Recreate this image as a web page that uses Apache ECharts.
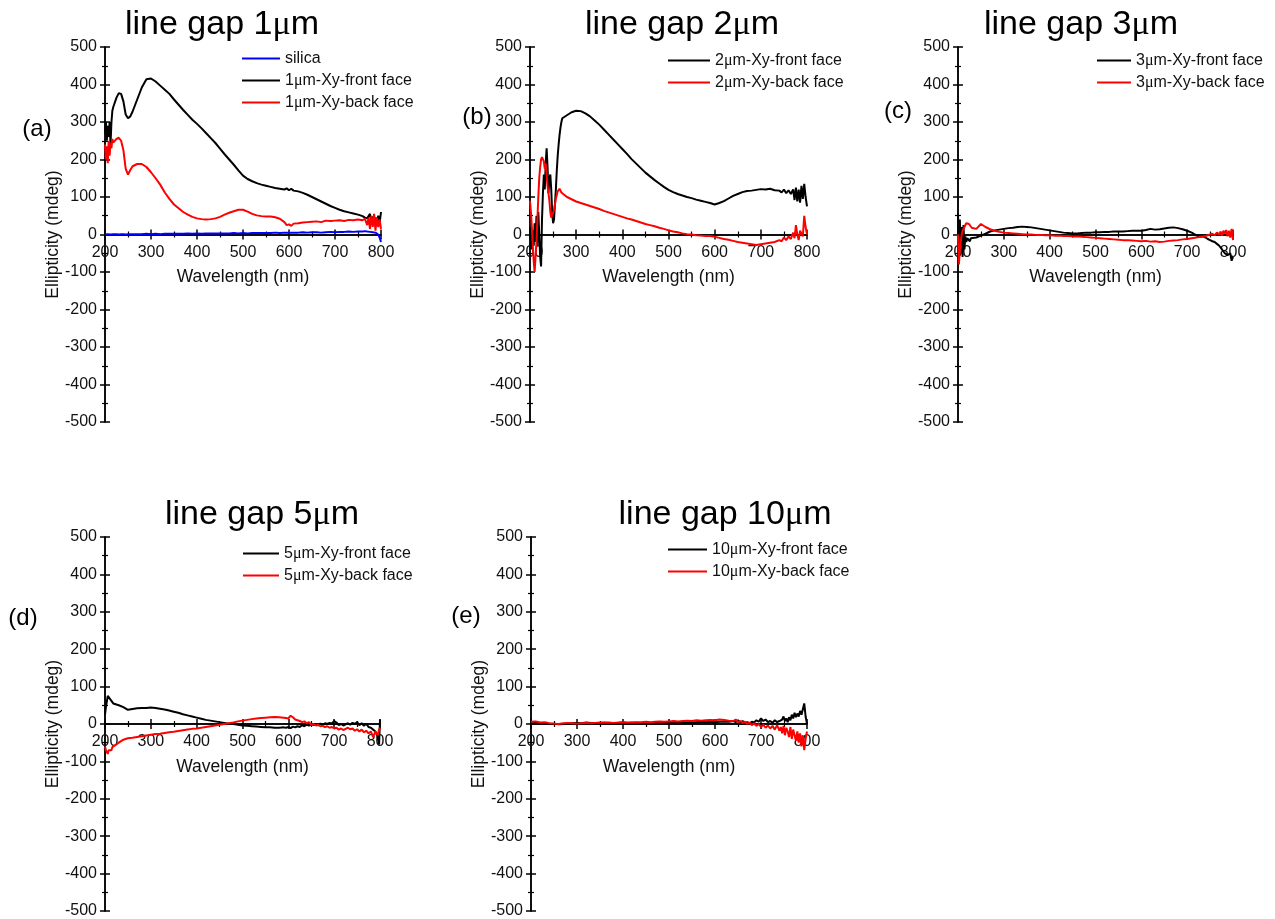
<!DOCTYPE html>
<html><head><meta charset="utf-8">
<script src="https://cdn.jsdelivr.net/npm/echarts@6/dist/echarts.min.js"></script>
<style>html,body{margin:0;padding:0;background:#fff}#chart{width:1275px;height:919px}</style>
</head><body><div id="chart"></div>
<script>
// ---------------- DATA ----------------
const xTicks = [200, 300, 400, 500, 600, 700, 800];
const yTicks = [-500, -400, -300, -200, -100, 0, 100, 200, 300, 400, 500];
const titles = ['line gap 1μm', 'line gap 2μm', 'line gap 3μm', 'line gap 5μm', 'line gap 10μm'];
const tags = ['(a)', '(b)', '(c)', '(d)', '(e)'];
const xName = 'Wavelength (nm)';
const yName = 'Ellipticity (mdeg)';

// Panel (a) line gap 1um
const wlA = [200,202,204,206,208,210,212,214,216,218,220,225,230,235,240,245,250,255,260,270,280,290,300,310,320,330,340,350,360,370,380,390,400,410,420,430,440,450,460,470,480,490,500,510,520,530,540,550,560,570,580,590,595,600,605,610,620,630,640,650,660,670,680,690,700,710,720,730,740,750,760,765,770,773,776,779,782,785,788,791,794,797,800];
const silicaA = [0,1,-1,1,0,1,0,1,0,1,0, 1,0,1,1,0,1,1, 1,1,1,2,1,2,1,2,2,2,2,2,3,2,3,2,3,3,3,3,3,3,4,3,4,3,4,4,4,4,4,5,4,5, 5,4,5, 5,5,6,5,6,6,5,6,7,6,7,7,8,7,8,8, 9,8, 10,7,9,6,8,5,4,0,-8,-20];
const frontA = [270,300,250,290,260,300,240,300,330,340,345, 365,377,375,355,320,310,315, 328,360,392,414,416,408,397,386,375,360,346,332,319,306,295,283,270,257,244,229,214,200,186,171,157,148,142,137,133,130,127,124,122,120, 123,118,122, 117,115,111,106,100,94,88,82,76,71,66,62,59,56,53,49, 45,43, 38,55,30,48,25,45,35,50,30,60];
const backA = [240,200,235,190,250,210,245,230,255,245,250, 255,258,250,225,175,160,172, 182,188,188,180,166,150,133,112,95,80,70,60,53,47,43,41,40,41,43,47,53,58,62,66,66,61,55,51,49,48,48,46,42,33, 25,27,23, 29,30,32,33,34,35,33,37,36,37,38,36,39,38,40,38, 42,25, 45,15,50,20,55,10,45,20,40,15];

// Panel (b) line gap 2um
const wlB = [200,202,204,206,208,210,212,214,216,218,220,222,224,226,228,230,232,234,236,238,240,242,244,246,248,250,252,254,256,258,260,262,264,266,268,270,280,290,300,310,320,330,340,350,360,370,380,390,400,410,420,430,440,450,460,470,480,490,500,510,520,530,540,550,560,570,580,590,600,610,620,630,640,650,660,670,680,690,700,710,720,730,740,745,750,755,760,765,770,773,776,779,782,785,788,791,794,797,800];
const frontB = [20,-10,-40,10,-30,30,-20,50,-30,60,0,-60,-85,40,110,160,120,190,230,180,110,150,160,120,60,30,40,80,120,170,210,240,265,285,300,310, 318,326,330,329,323,315,304,293,280,267,254,241,228,215,201,189,177,165,155,145,136,127,119,113,108,104,100,97,93,90,87,84,80,84,89,96,103,108,113,116,117,119,121,120,122,118,117, 112,120,110,118,108,120, 92,125,88,120,85,130,95,135,100,75];
const backB = [90,60,20,-30,-70,-100,-60,-20,40,100,150,180,200,206,204,195,175,190,160,130,110,90,60,45,42,50,65,80,95,105,115,120,122,118,112,108, 100,94,88,84,80,76,72,68,63,59,55,51,47,43,40,36,32,28,25,22,18,15,11,8,6,3,1,0,-2,-3,-4,-4,-6,-9,-12,-14,-17,-20,-22,-24,-26,-28,-26,-24,-22,-20,-15, -18,-8,-15,-5,-12,5, -10,25,0,-15,10,5,-5,50,20,0];

// Panel (c) line gap 3um
const wlC = [200,202,204,206,208,210,212,214,216,218,220,222,224,226,228,230,240,250,260,270,280,290,300,310,320,330,340,350,360,370,380,390,400,410,420,430,440,450,460,470,480,490,500,510,520,530,540,550,560,570,580,590,600,610,620,630,640,650,660,670,680,690,700,710,720,725,730,735,740,745,750,755,760,765,770,773,776,779,782,785,788,791,794,797,800];
const frontC = [55,-40,40,-30,20,-60,25,-40,-5,-20,-10,-15,-8,-18,-10,-12, -8,-3,2,8,11,13,15,17,18,20,21,20,19,17,15,13,11,9,7,5,4,3,3,4,5,5,6,6,7,7,8,8,8,9,10,10,10,12,15,13,14,16,18,19,17,14,10,5,-2, -5,-6,-5,-8,-12,-15,-18,-20,-25,-30, -35,-40,-38,-50,-45,-55,-60,-50,-70,-60];
const backC = [0,-80,-40,-20,0,10,15,20,25,30,33,30,28,33,25,18, 15,28,20,14,10,7,5,4,3,2,1,0,0,-1,-1,-2,-2,-3,-3,-4,-4,-5,-5,-6,-7,-8,-9,-10,-11,-12,-13,-14,-15,-15,-16,-17,-18,-17,-19,-18,-20,-19,-17,-16,-15,-13,-12,-10,-8, -7,-6,-5,-4,-2,0,2,-2,5,0, 8,-3,10,2,12,-5,10,-8,15,-15];

// Panel (d) line gap 5um
const wlD = [200,202,204,206,208,210,212,214,216,218,220,230,240,250,260,270,280,290,300,310,320,330,340,350,360,370,380,390,400,410,420,430,440,450,460,470,480,490,500,510,520,530,540,550,560,570,580,590,595,600,605,610,615,620,625,630,635,640,645,650,655,660,665,670,675,680,685,690,695,700,705,710,715,720,725,730,735,740,745,750,755,760,765,770,775,780,785,790,795,798,800];
const frontD = [25,45,60,75,78,70,65,60,62,55,55, 50,45,38,40,42,43,43,44,43,41,39,36,33,30,26,23,20,17,14,11,9,7,5,3,1,0,-2,-4,-5,-6,-7,-8,-9,-9,-10,-10,-9, -10,-8,-11,-7,-9,-6,-8,-3,-6,-2,-4,-1,-3,0,-4,1,-2,2,0,3,1,8,4,-3,0,-4,-1,2,-2,3,0,5,-3,2,-5,1,-8,-10,-15,-20,-35, -55,12];
const backD = [-60,-70,-65,-80,-70,-75,-65,-70,-62,-64,-58, -50,-42,-38,-37,-35,-33,-31,-29,-27,-26,-24,-22,-21,-19,-17,-15,-13,-12,-10,-8,-6,-4,-2,0,2,4,7,9,11,13,15,16,17,18,19,18,17, 16,15,22,18,12,10,8,5,7,2,5,-2,0,-4,-2,-6,-5,-8,-6,-10,-8,-12,-10,-15,-12,-16,-13,-10,-14,-12,-18,-14,-20,-15,-22,-18,-25,-20,-35,-20,-30, -15,-10];

// Panel (e) line gap 10um
const wlE = [200,210,220,230,240,250,260,270,280,290,300,310,320,330,340,350,360,370,380,390,400,410,420,430,440,450,460,470,480,490,500,510,520,530,540,550,560,570,580,590,600,610,620,630,640,645,650,655,660,665,670,675,680,685,690,695,700,705,710,715,720,725,730,735,740,743,746,749,752,755,758,761,764,767,770,773,776,779,782,785,788,791,794,797,800];
const frontE = [2,3,1,2,0,1,-1,0,1,2,3,2,4,3,2,3,4,3,2,3,4,3,3,4,3,4,3,4,5,4,3,4,5,4,5,4,5,6,5,6,5,6,7,6,8, 5,10,4,8,3,5,2,6,4,10,6,15,8,12,5,8,3,10,5,8, 4,12,20,8,15,5,18,10,25,15,30,18,28,20,35,25,30,55,20,0];
const backE = [6,7,4,5,2,1,0,2,3,2,1,2,3,2,3,4,3,4,3,4,5,4,5,4,5,6,5,6,7,6,7,8,7,8,9,8,10,9,10,11,10,12,11,9,8, 12,5,8,3,6,0,4,-3,2,-5,0,-8,-2,-10,-4,-12,-5,-15,-3,-18, -8,-25,-5,-30,-10,-20,-35,-8,-40,-15,-30,-45,-20,-50,-25,-60,-30,-70,-40,-20];

const panels = [
  {wl: wlA, lines: [['silica', silicaA, '#0000ff'], ['1μm-Xy-front face', frontA, '#000000'], ['1μm-Xy-back face', backA, '#ff0000']]},
  {wl: wlB, lines: [['2μm-Xy-front face', frontB, '#000000'], ['2μm-Xy-back face', backB, '#ff0000']]},
  {wl: wlC, lines: [['3μm-Xy-front face', frontC, '#000000'], ['3μm-Xy-back face', backC, '#ff0000']]},
  {wl: wlD, lines: [['5μm-Xy-front face', frontD, '#000000'], ['5μm-Xy-back face', backD, '#ff0000']]},
  {wl: wlE, lines: [['10μm-Xy-front face', frontE, '#000000'], ['10μm-Xy-back face', backE, '#ff0000']]}
];

// ---------------- LAYOUT ----------------
const SANS = '"Liberation Sans", Arial, Helvetica, sans-serif';
const SERIF = '"Liberation Serif", "Times New Roman", serif';
const layout = [
  {grid: {left: 105, top: 47, width: 276, height: 375}, leg: {left: 242, top: 50, w: 38}, title: [222, 25], tag: [37, 129]},
  {grid: {left: 530, top: 47, width: 277, height: 375}, leg: {left: 668, top: 52, w: 42}, title: [682, 25], tag: [477, 117]},
  {grid: {left: 958, top: 47, width: 275, height: 375}, leg: {left: 1097, top: 52, w: 34}, title: [1081, 25], tag: [898, 111]},
  {grid: {left: 105, top: 537, width: 275, height: 374}, leg: {left: 243, top: 545, w: 36}, title: [262, 515], tag: [23, 618]},
  {grid: {left: 531, top: 537, width: 276, height: 374}, leg: {left: 668, top: 541, w: 39}, title: [725, 515], tag: [466, 616]}
];

const N = panels.length;
const muFmt = s => s.replace('μ', '{mu|μ}');
const AX = '#000';
const xRange = {type: 'value', min: xTicks[0], max: xTicks[xTicks.length - 1], interval: xTicks[1] - xTicks[0]};
const yRange = {type: 'value', min: yTicks[0], max: yTicks[yTicks.length - 1], interval: yTicks[1] - yTicks[0]};

// main x axis: line + ticks at y = 0 (ticks out / in via duplicate)
function makeX(g, zeroIdx, inside) {
  return Object.assign({}, xRange, {
    gridIndex: g, position: 'bottom',
    axisLine: {show: true, onZero: true, onZeroAxisIndex: zeroIdx, lineStyle: {color: AX, width: 1.5}},
    axisTick: {show: true, inside, length: 5, lineStyle: {color: AX, width: 1.5}},
    minorTick: {show: true, splitNumber: 2, length: 3, lineStyle: {color: AX, width: 1.2}},
    axisLabel: {show: false}, splitLine: {show: false}, minorSplitLine: {show: false}
  });
}
// label x axis: lives on a grid whose bottom edge is the zero line
function makeXLabel(g) {
  return Object.assign({}, xRange, {
    gridIndex: g, position: 'bottom',
    axisLine: {show: false, onZero: false}, axisTick: {show: false}, minorTick: {show: false},
    axisLabel: {show: true, margin: 10, fontSize: 16, color: '#111', fontFamily: SANS},
    splitLine: {show: false},
    name: xName, nameLocation: 'middle', nameGap: 34, nameMoveOverlap: false,
    nameTextStyle: {fontSize: 17.5, color: '#111', fontFamily: SANS}
  });
}
function makeY(g, primary) {
  return Object.assign({}, yRange, {
    gridIndex: g, position: 'left',
    axisLine: {show: true, onZero: false, lineStyle: {color: AX, width: 1.5}},
    axisTick: {show: true, inside: !primary, length: 5, lineStyle: {color: AX, width: 1.5}},
    minorTick: {show: true, splitNumber: 2, length: 3, lineStyle: {color: AX, width: 1.2}},
    axisLabel: {show: primary, margin: 8, fontSize: 16, color: '#111', fontFamily: SANS},
    splitLine: {show: false}, minorSplitLine: {show: false},
    name: primary ? yName : '', nameLocation: 'middle', nameGap: 43, nameMoveOverlap: false,
    nameTextStyle: {fontSize: 17.5, color: '#111', fontFamily: SANS}
  });
}

const grids = [], xAxes = [], yAxes = [], series = [], legends = [], graphics = [];
// main grids 0..N-1
panels.forEach((p, i) => {
  const L = layout[i];
  grids.push(Object.assign({containLabel: false, outerBoundsMode: 'none', show: false}, L.grid));
  xAxes.push(makeX(i, i, false));
  yAxes.push(makeY(i, true));
  p.lines.forEach(([name, vals, color]) => {
    series.push({
      type: 'line', name, xAxisIndex: i, yAxisIndex: i,
      data: p.wl.map((x, k) => [x, vals[k]]),
      symbol: 'none', showSymbol: false, color,
      lineStyle: {color, width: 2}, itemStyle: {color},
      animation: false, silent: true
    });
  });
  legends.push({
    orient: 'vertical', left: L.leg.left, top: L.leg.top, padding: 0,
    itemWidth: L.leg.w, itemHeight: 2, itemGap: 5, icon: 'rect', selectedMode: false,
    data: p.lines.map(l => l[0]),
    formatter: muFmt,
    textStyle: {fontSize: 16, fontFamily: SANS, color: '#111', lineHeight: 17,
      rich: {mu: {fontFamily: SERIF, fontSize: 16, lineHeight: 17, color: '#111'}}}
  });
  graphics.push({
    type: 'text', x: L.title[0], y: L.title[1], silent: true,
    style: {text: muFmt(titles[i]), fontSize: 34, fontFamily: SANS, fill: '#000', align: 'center', verticalAlign: 'middle',
      rich: {mu: {fontFamily: SERIF, fontSize: 34, fill: '#000'}}}
  });
  graphics.push({
    type: 'text', x: L.tag[0], y: L.tag[1], silent: true,
    style: {text: tags[i], fontSize: 24, fontFamily: SANS, fill: '#000', align: 'center', verticalAlign: 'middle'}
  });
});
// label grids N..2N-1 : upper half of each panel, bottom edge on the zero line
panels.forEach((p, i) => {
  const g = layout[i].grid;
  grids.push({containLabel: false, outerBoundsMode: 'none', show: false,
    left: g.left, width: g.width, top: g.top, height: g.height / 2});
  xAxes.push(makeXLabel(N + i));
  yAxes.push({type: 'value', gridIndex: N + i, min: 0, max: 500, show: false});
});
// duplicate axes 2N..3N-1 with inside ticks, so ticks cross the axis lines
panels.forEach((p, i) => {
  xAxes.push(makeX(i, 2 * N + i, true));
  yAxes.push(makeY(i, false));
});

const chart = echarts.init(document.getElementById('chart'), null, {renderer: 'canvas'});
chart.setOption({
  backgroundColor: '#ffffff',
  animation: false,
  grid: grids, xAxis: xAxes, yAxis: yAxes, series, legend: legends, graphic: graphics
});
</script></body></html>
